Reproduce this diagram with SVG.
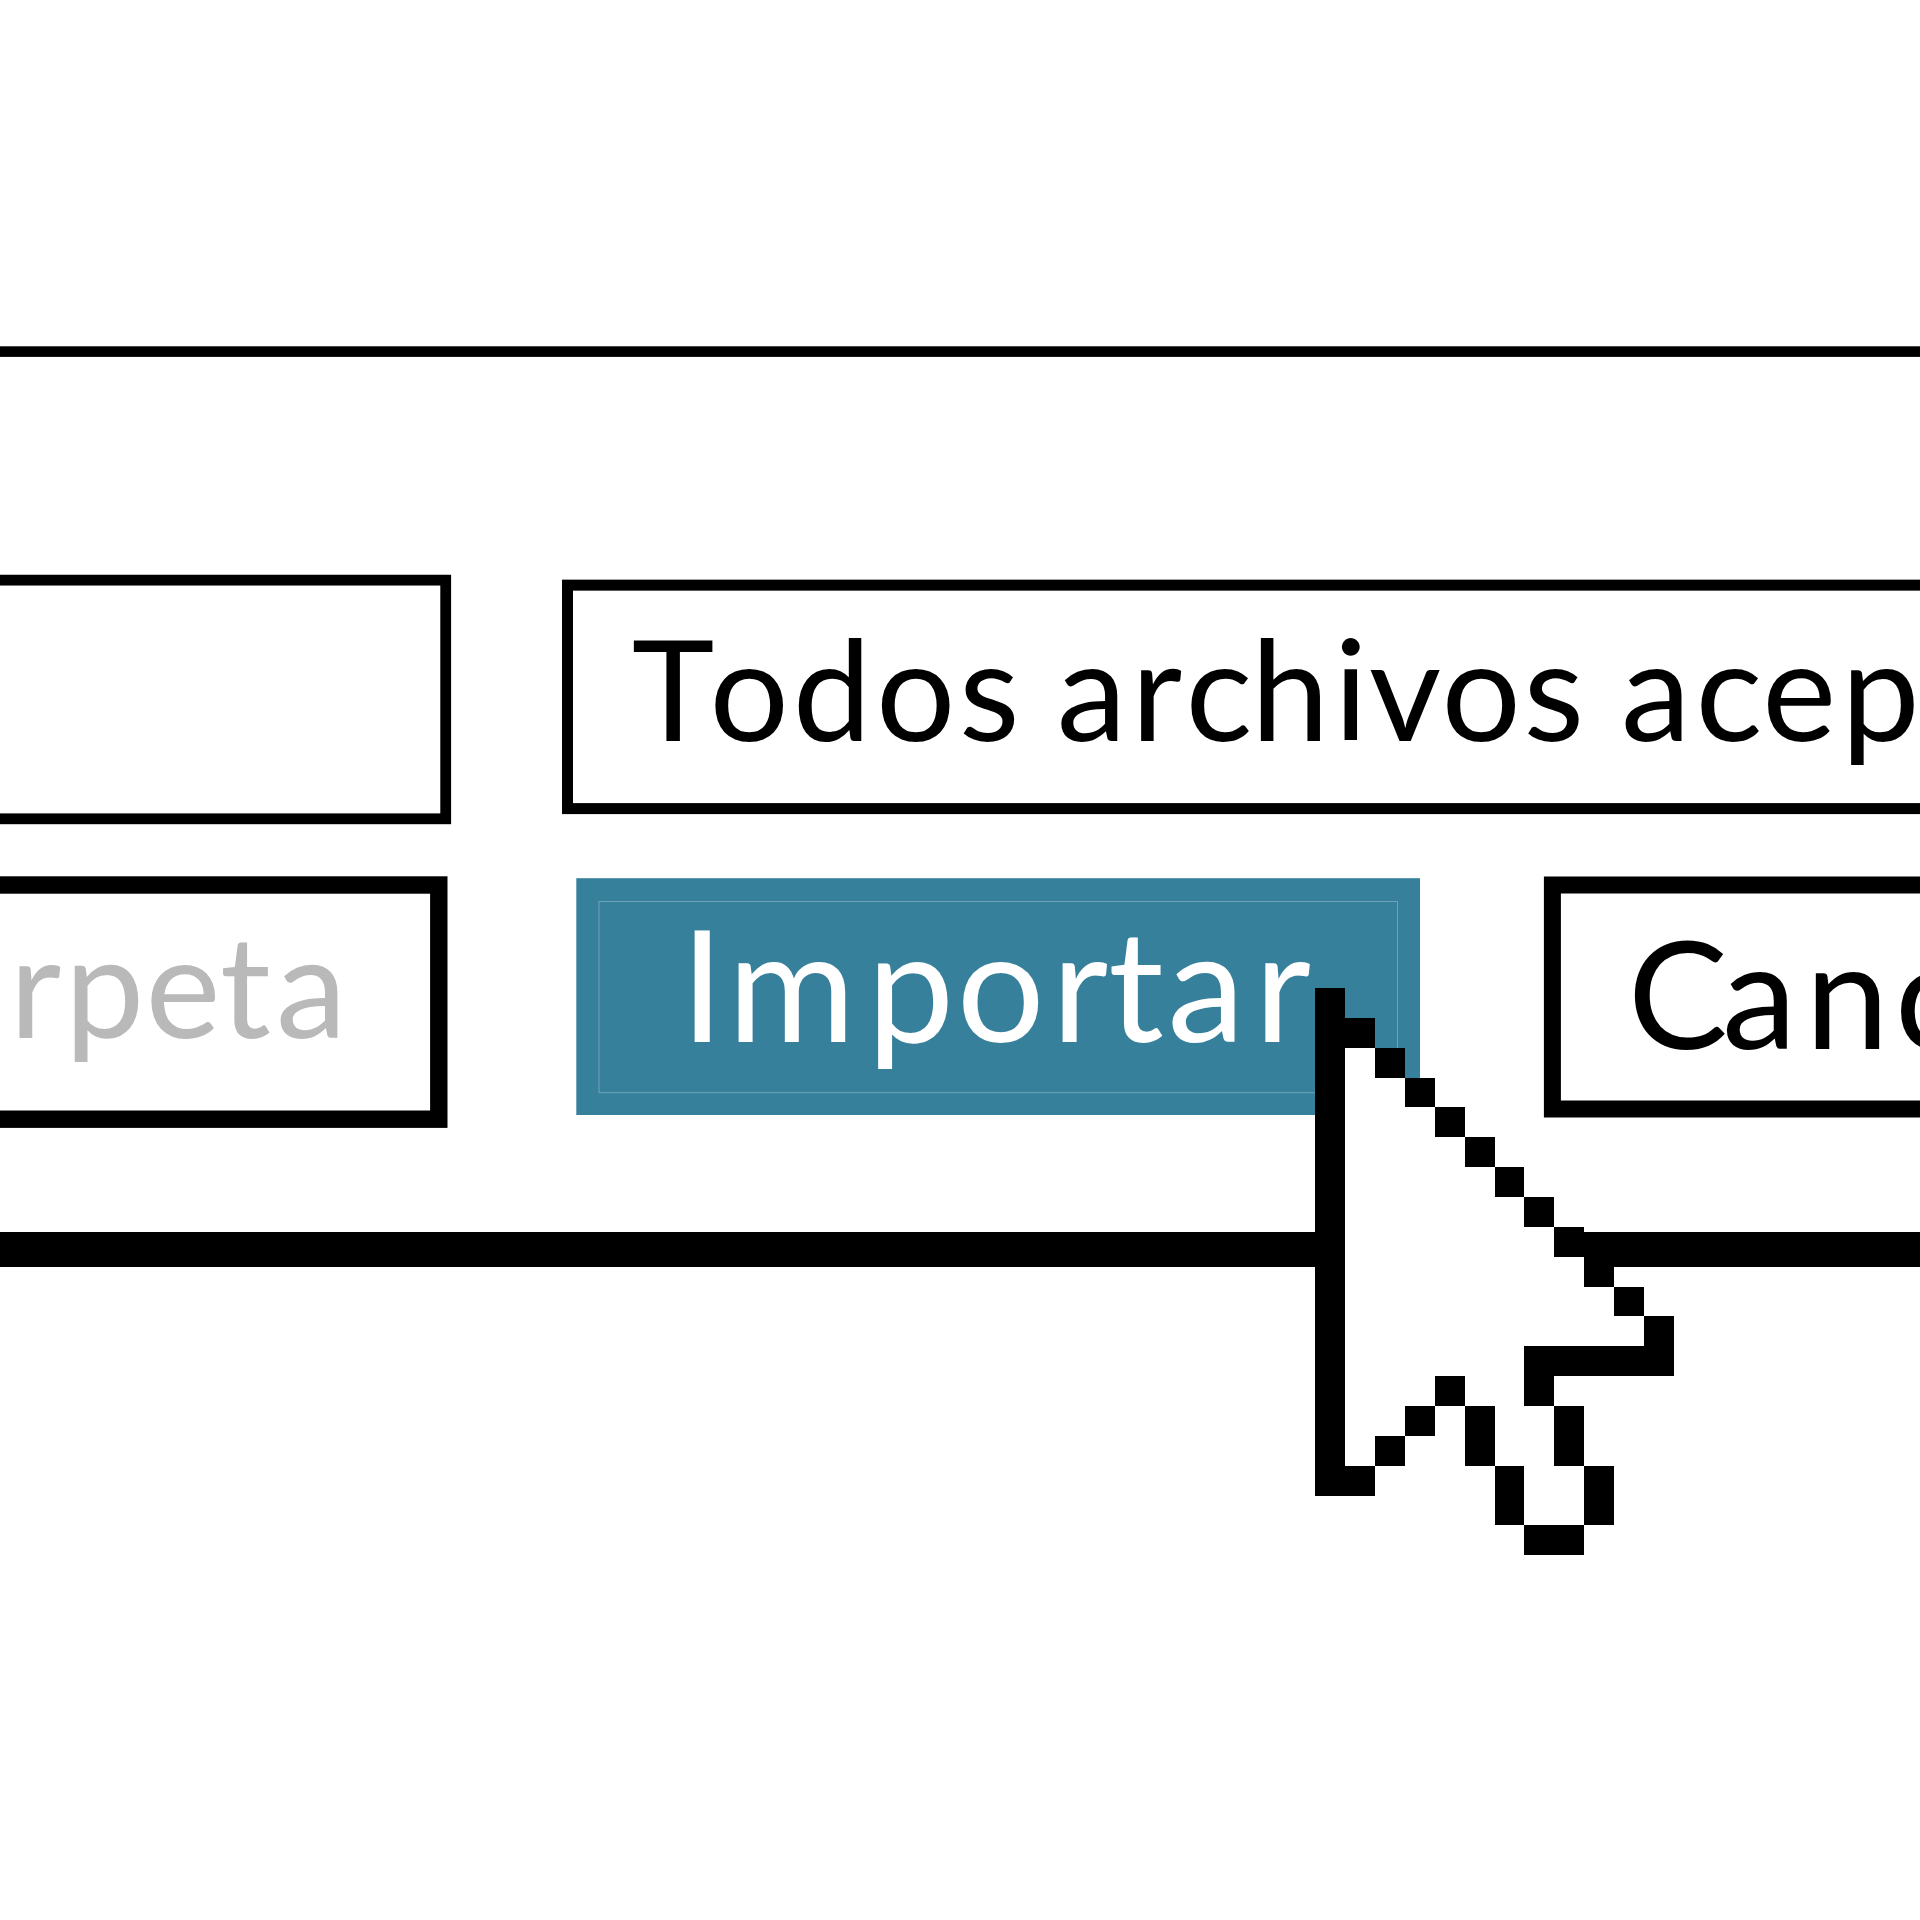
<svg xmlns="http://www.w3.org/2000/svg" width="1920" height="1920" viewBox="0 0 1920 1920">
<style>
.t{font-family:"Lato","Open Sans",sans-serif}
.b{fill:#fff;stroke:#000}
.c{fill:#000}
</style>
<rect width="1920" height="1920" fill="#fff"/>
<g id="rules">
<rect x="0" y="346.3" width="1920" height="10.6" fill="#000"/>
<rect x="0" y="1232" width="1920" height="35" fill="#000"/>
</g>
<g id="field-left">
<rect class="b" x="-20" y="580.15" width="465.7" height="238.65" stroke-width="10.8"/>
</g>
<g id="field-filter">
<rect class="b" x="567.5" y="585.15" width="1372" height="223.45" stroke-width="11"/>
<text class="t" x="633" y="741" font-size="140" fill="#000" dx="-1.2 12.2 3.7 4.9 3.7 0 1.2 4.9 6.1 -1.2 4.9 1.2 2.4 2.4 0 1.2 4.9 1.2 4.9">Todos archivos acep</text>
</g>
<g id="btn-folder">
<rect class="b" x="-30" y="885" width="468.8" height="234.2" stroke-width="17.4"/>
<text class="t" x="18" y="1038" font-size="142" fill="#b9b9b9" dx="-8.6 3.7 1.2 0 4.9">rpeta</text>
</g>
<g id="btn-import">
<rect x="576.3" y="878.2" width="843.7" height="236.8" fill="#37809b"/>
<rect x="599" y="901.5" width="798.5" height="191.2" fill="none" stroke="#6fa3b7" stroke-width="1"/>
<text class="t" x="694" y="1042" font-size="155" fill="#fff" dx="-13.5 4.9 12.2 2.4 7.3 0 3.7 9.8">Importar</text>
</g>
<g id="btn-cancel">
<rect class="b" x="1552.4" y="885" width="400" height="224" stroke-width="17"/>
<text class="t" x="1635" y="1049" font-size="150" fill="#000" dx="-7.3 -5.8 8.6 5.9">Canc</text>
</g>
<g id="cursor" transform="translate(1315.3 988.1) scale(29.87 29.85)" shape-rendering="crispEdges">
<path fill="#fff" d="M0 0H1V1H2V2H3V3H4V4H5V5H6V6H7V7H8V8H9V9H10V10H11V11H12V13H8V14H9V16H10V18H9V19H7V18H6V16H5V14H4V13H3V14H2V15H1V17H0Z"/>
<path class="c" d="M0 0H1V1H2V2H1V16H2V17H0ZM2 2H3V3H2ZM3 3H4V4H3ZM4 4H5V5H4ZM5 5H6V6H5ZM6 6H7V7H6ZM7 7H8V8H7ZM8 8H9V9H8ZM9 9H10V10H9ZM10 10H11V11H10ZM11 11H12V13H8V14H7V12H11ZM8 14H9V16H8ZM9 16H10V18H9ZM7 18H9V19H7ZM6 16H7V18H6ZM5 14H6V16H5ZM4 13H5V14H4ZM3 14H4V15H3ZM2 15H3V16H2Z"/>
</g>
</svg>
